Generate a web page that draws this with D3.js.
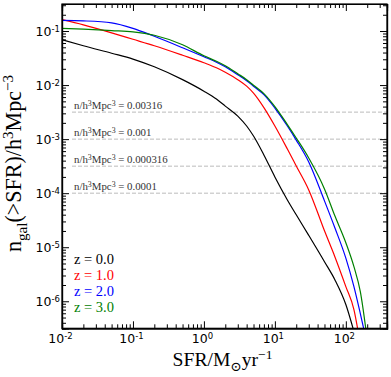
<!DOCTYPE html>
<meta charset="utf-8">
<style>
body{margin:0;background:#fff;}
.tick text{font-family:"DejaVu Sans",sans-serif;font-size:12.5px;fill:#000;}
.math{font-family:"Liberation Serif","DejaVu Serif",serif;}
.domain{stroke:#000;}
.tick line{stroke:#000;}
</style>
<body>
<div id="chart"></div>
<script src="https://d3js.org/d3.v7.min.js"></script>
<script>
// SFR grid (Msun/yr) and cumulative number densities n(>SFR) per redshift
var sfr  = [0.01,0.02,0.05,0.1,0.2,0.5,1,1.5,2,3,4,5,7,10,15,20,30,50,70,100,130,160,200];
var n_z0 = [0.0689,0.0533,0.0388,0.0303,0.0218,0.0126,0.0077,0.0055,0.00408,0.00267,0.00175,0.00114,5.1e-4,2.0e-4,7.5e-5,3.98e-5,1.66e-5,5.4e-6,2.51e-6,8.7e-7,2.76e-7,null,null];
var n_z1 = [0.162,0.130,0.0926,0.0703,0.0533,0.0356,0.0259,0.0209,0.0173,0.0126,0.00955,0.0071,0.00383,0.00175,6.56e-4,3.19e-4,1.15e-4,2.01e-5,6.68e-6,1.87e-6,7.03e-7,1.59e-7,null];
var n_z2 = [0.157,0.154,0.1416,0.1122,0.0799,0.049,0.0334,0.0265,0.0218,0.01555,0.01205,0.00954,0.00665,0.00375,0.00175,9.6e-4,3.78e-4,7.2e-5,2.29e-5,6.27e-6,1.87e-6,5.93e-7,1.59e-7];
var n_z3 = [0.1122,0.1084,0.1017,0.0966,0.0834,0.0556,0.0348,0.0276,0.0228,0.0162,0.0126,0.00995,0.00694,0.00399,0.00186,0.00105,4.48e-4,1.2e-4,3.81e-5,1.21e-5,4.37e-6,1.51e-6,1.96e-7];
var zLabels = ["0.0","1.0","2.0","3.0"];
var zColors = ["#000000","#ff0000","#0000ff","#008000"];
var refLevels = [0.00316,0.001,0.000316,0.0001];
var refLabels = ["0.00316","0.001","0.000316","0.0001"];
var xMajor = [-2,-1,0,1,2];
var yMajor = [-6,-5,-4,-3,-2,-1];

var W = 391, H = 377;
var pL = 62, pR = 387, pT = 4, pB = 328.3;

var svg = d3.select("#chart").append("svg").attr("width",W).attr("height",H);

var x = d3.scaleLog().domain([0.01, Math.pow(10,2.58)]).range([pL,pR]);
var y = d3.scaleLog().domain([Math.pow(10,-6.5), Math.pow(10,-0.5)]).range([pB,pT]);

function minors(lo,hi){
    var out=[];
    for(var e=lo;e<=hi;e++) for(var k=2;k<=9;k++) out.push(k*Math.pow(10,e));
    return out;
}
var xMin = minors(-2,2).filter(v=>v<=x.domain()[1]);
var yMin = minors(-7,-1).filter(v=>v>=y.domain()[0] && v<=y.domain()[1]);

// scale a label's font (and its tspans) so that its length matches the reference
function scaleText(t, base, k){
    t.style("font-size",(base*k)+"px");
    t.selectAll("tspan").each(function(){
        var s = d3.select(this);
        if(s.attr("data-fs")) s.style("font-size",(+s.attr("data-fs")*k)+"px");
        if(s.attr("dy")) s.attr("dy",(+s.attr("dy"))*k);
    });
}
function fitLength(t, base, target){
    var k = target/t.node().getBBox().width;
    scaleText(t,base,k);
    return k;
}

svg.append("clipPath").attr("id","clip").append("rect")
    .attr("x",pL).attr("y",pT).attr("width",pR-pL).attr("height",pB-pT);

// reference dashed levels
var refText = [];
refLevels.forEach(function(v,i){
    svg.append("line").attr("x1",72).attr("x2",pR)
        .attr("y1",y(v)).attr("y2",y(v))
        .style("stroke","#bbb").style("stroke-width",1).style("stroke-dasharray","4,2");
    var t = svg.append("text").attr("class","math").attr("x",74).attr("y",y(v)-3)
        .style("font-size","9px").style("fill","#333");
    t.append("tspan").text("n/h");
    t.append("tspan").attr("dy",-3).attr("data-fs",6.5).style("font-size","6.5px").text("3");
    t.append("tspan").attr("dy",3).text("Mpc");
    t.append("tspan").attr("dy",-3).attr("data-fs",6.5).style("font-size","6.5px").text("3");
    t.append("tspan").attr("dy",3).text(" = "+refLabels[i]);
    refText.push(t);
});
var kRef = fitLength(refText[0],9,89);
refText.slice(1).forEach(t=>scaleText(t,9,kRef));

// curves
var series = [n_z0,n_z1,n_z2,n_z3];
var line = d3.line()
    .defined(d=>d[1]!=null)
    .x(d=>x(d[0])).y(d=>y(d[1]))
    .curve(d3.curveMonotoneX);
var gl = svg.append("g").attr("clip-path","url(#clip)");
series.forEach(function(s,i){
    gl.append("path").datum(sfr.map((v,j)=>[v,s[j]]))
        .attr("d",line).style("fill","none")
        .style("stroke",zColors[i]).style("stroke-width",1.2);
});

// axes with inward ticks on all four sides
function supLabel(sel){
    sel.each(function(d){
        var e = Math.round(Math.log10(d));
        var t = d3.select(this).text("");
        t.append("tspan").text("10");
        t.append("tspan").attr("dy","-0.45em").style("font-size","8.5px").text(e<0?"-"+(-e):e);
    });
}
var xTicks = xMajor.map(e=>Math.pow(10,e));
var yTicks = yMajor.map(e=>Math.pow(10,e));

var gxb = svg.append("g").attr("transform","translate(0,"+pB+")")
    .call(d3.axisBottom(x).tickValues(xTicks).tickSize(-7).tickPadding(6));
gxb.selectAll(".tick text").attr("dx",-2).call(supLabel);
svg.append("g").attr("transform","translate(0,"+pB+")")
    .call(d3.axisBottom(x).tickValues(xMin).tickSize(-4).tickFormat(""));
svg.append("g").attr("transform","translate(0,"+pT+")")
    .call(d3.axisTop(x).tickValues(xTicks).tickSize(-7).tickFormat(""));
svg.append("g").attr("transform","translate(0,"+pT+")")
    .call(d3.axisTop(x).tickValues(xMin).tickSize(-4).tickFormat(""));

var gyl = svg.append("g").attr("transform","translate("+pL+",0)")
    .call(d3.axisLeft(y).tickValues(yTicks).tickSize(-7).tickPadding(2));
gyl.selectAll(".tick text").call(supLabel);
svg.append("g").attr("transform","translate("+pL+",0)")
    .call(d3.axisLeft(y).tickValues(yMin).tickSize(-4).tickFormat(""));
svg.append("g").attr("transform","translate("+pR+",0)")
    .call(d3.axisRight(y).tickValues(yTicks).tickSize(-7).tickFormat(""));
svg.append("g").attr("transform","translate("+pR+",0)")
    .call(d3.axisRight(y).tickValues(yMin).tickSize(-4).tickFormat(""));
svg.selectAll(".domain").style("stroke-width",1.2);

// frame
svg.append("rect").attr("x",pL).attr("y",pT).attr("width",pR-pL).attr("height",pB-pT)
    .style("fill","none").style("stroke","#000").style("stroke-width",1.2);

// legend
var legText = zLabels.map(function(z,i){
    return svg.append("text").attr("class","math").attr("x",74).attr("y",263.5+i*16)
        .style("font-size","14px").style("fill",zColors[i]).text("z = "+z);
});
var kLeg = fitLength(legText[0],14,40);
legText.slice(1).forEach(t=>scaleText(t,14,kLeg));

// x label
var xl = svg.append("text").attr("class","math").attr("x",(pL+pR)/2-2).attr("y",366)
    .attr("text-anchor","middle").style("font-size","16px");
xl.append("tspan").text("SFR/M");
xl.append("tspan").attr("dy",4).attr("data-fs",11).style("font-size","11px").text("\u2299");
xl.append("tspan").attr("dy",-4).text("yr");
xl.append("tspan").attr("dy",-6).attr("data-fs",11).style("font-size","11px").text("\u22121");
fitLength(xl,16,100);

// y label
var yl = svg.append("text").attr("class","math")
    .attr("transform","translate(21,163.5) rotate(-90)")
    .attr("text-anchor","middle").style("font-size","16px");
yl.append("tspan").text("n");
yl.append("tspan").attr("dy",4).attr("data-fs",11).style("font-size","11px").text("gal");
yl.append("tspan").attr("dy",-4).text("(>SFR)/h");
yl.append("tspan").attr("dy",-6).attr("data-fs",11).style("font-size","11px").text("3");
yl.append("tspan").attr("dy",6).text("Mpc");
yl.append("tspan").attr("dy",-6).attr("data-fs",11).style("font-size","11px").text("\u22123");
fitLength(yl,16,178);
</script>
</body>
</html>
